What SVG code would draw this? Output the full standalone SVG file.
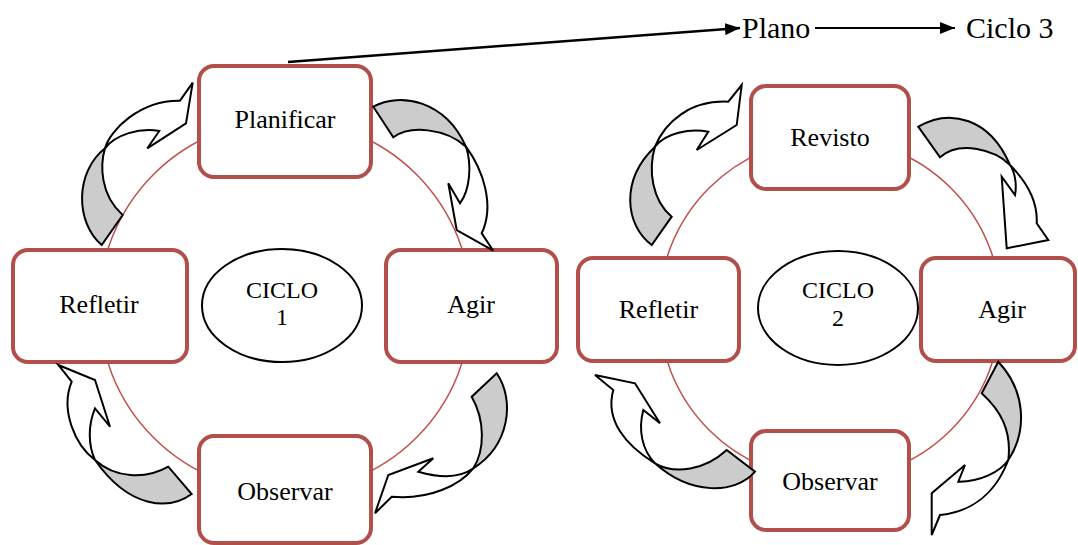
<svg xmlns="http://www.w3.org/2000/svg" width="1078" height="545" viewBox="0 0 1078 545">
<defs>
<style>
.box{fill:#fff;stroke:#b34f4b;stroke-width:4}
.ring{fill:none;stroke:#c0504d;stroke-width:1.5}
.ell{fill:#fff;stroke:#000;stroke-width:2}
.t{font-family:"Liberation Serif","Times New Roman",serif;font-size:26px;fill:#000;text-anchor:middle}
.c{font-family:"Liberation Serif","Times New Roman",serif;font-size:24px;fill:#000;text-anchor:middle}
.big{font-family:"Liberation Serif","Times New Roman",serif;font-size:30px;fill:#000}
.aw{fill:#fff;stroke:#000;stroke-width:2;stroke-linejoin:miter}
.ag{fill:#cccccc;stroke:#000;stroke-width:2}
.ln{stroke:#000;fill:none}
</style>
<marker id="ah" markerUnits="userSpaceOnUse" markerWidth="16" markerHeight="12" refX="15" refY="6" orient="auto">
<path d="M0,0 L15,6 L0,12 Z" fill="#000"/>
</marker>
</defs>
<rect width="1078" height="545" fill="#fff"/>
<circle class="ring" cx="285" cy="306" r="186"/>
<circle class="ring" cx="830" cy="309" r="171"/>
<g id="planificar"><rect class="box" x="199" y="66" width="172" height="111" rx="15"/><text class="t" x="285" y="128">Planificar</text></g>
<g id="refletir1"><rect class="box" x="13" y="250" width="174" height="112" rx="15"/><text class="t" x="99" y="313">Refletir</text></g>
<g id="agir1"><rect class="box" x="386" y="250" width="171" height="112" rx="15"/><text class="t" x="471" y="313">Agir</text></g>
<g id="observar1"><rect class="box" x="199" y="436" width="172" height="107" rx="15"/><text class="t" x="285" y="500">Observar</text></g>
<g id="ciclo1"><ellipse class="ell" cx="282" cy="305.5" rx="80" ry="56.5"/><text class="c" x="282" y="298">CICLO</text><text class="c" x="282" y="325">1</text></g>
<g id="revisto"><rect class="box" x="751" y="86" width="158" height="103" rx="15"/><text class="t" x="830" y="146">Revisto</text></g>
<g id="refletir2"><rect class="box" x="578" y="258" width="161" height="103" rx="15"/><text class="t" x="658.5" y="318">Refletir</text></g>
<g id="agir2"><rect class="box" x="921" y="258" width="154" height="103" rx="15"/><text class="t" x="1002" y="318">Agir</text></g>
<g id="observar2"><rect class="box" x="751" y="431" width="158" height="99" rx="15"/><text class="t" x="830" y="490">Observar</text></g>
<g id="ciclo2"><ellipse class="ell" cx="838" cy="308" rx="80" ry="57"/><text class="c" x="838" y="298">CICLO</text><text class="c" x="838" y="326">2</text></g>
<g id="plano"><text class="big" x="742" y="38">Plano</text></g>
<g id="ciclo3"><text class="big" x="966" y="38">Ciclo 3</text></g>
<g id="connectors">
<line class="ln" x1="288" y1="62" x2="740" y2="28" stroke-width="2.5" marker-end="url(#ah)"/>
<line class="ln" x1="815" y1="28" x2="955" y2="28" stroke-width="2" marker-end="url(#ah)"/>
<!-- left cycle curved arrows -->
<path class="ag" d="M101.7,245 C75,222 75,172 105,148.3 C100,165 100,195 122.7,215 Z"/>
<path class="aw" d="M105,148.3 C110,130 140,100 180,100.7 L192.7,82.7 L186,123.3 L147.3,148.3 L159.3,131 C140,127 115,135 105,148.3 Z"/>
<path class="ag" d="M373.3,106.7 C400,92 445,100 466,146.7 C445,128 410,125 393.3,137.3 Z"/>
<path class="aw" d="M466,146.7 C483,170 495,205 481.7,233.3 L493.3,250.7 L456.7,230 L448.3,183.3 L460,203.3 C470,190 472,165 466,146.7 Z"/>
<path class="ag" d="M191.7,494 C170,510 130,510 95,460 C115,478 145,480 168.3,466.7 Z"/>
<path class="aw" d="M95,460 C75,445 60,410 71.7,381.7 L58.3,365 L95,380 L110,426.7 L95,408.3 C88,425 88,445 95,460 Z"/>
<path class="ag" d="M496.7,373.3 C515,400 510,445 473.3,468.3 C485,450 485,420 471.7,396.7 Z"/>
<path class="aw" d="M473.3,468.3 C460,485 430,500 391.7,496.7 L375,513.3 L388.3,475 L433.3,458.3 L418.3,471.7 C440,478 460,478 473.3,468.3 Z"/>
<!-- right cycle curved arrows -->
<path class="ag" d="M651.7,245 C625,225 620,180 655,146.7 C648,170 652,200 671.7,216.7 Z"/>
<path class="aw" d="M655,146.7 C665,122 690,100 728.3,101.7 L741.7,85 L736.7,125 L696.7,150 L708.3,131.7 C690,128 665,133 655,146.7 Z"/>
<path class="ag" d="M918.3,126.7 C950,108 990,118 1010,165 C995,150 960,140 940,157.3 Z"/>
<path class="aw" d="M1010,165 C1025,180 1038,200 1036.7,223.3 L1048.3,240 L1006.7,248.3 L1001.7,176.7 L1015,195 C1017,185 1015,172 1010,165 Z"/>
<path class="ag" d="M755,471.7 C735,495 690,495 655,463.3 C675,475 705,470 726.7,450 Z"/>
<path class="aw" d="M655,463.3 C625,445 605,420 613.3,390 L595,375 L635,383.3 L660,423.3 L643.3,410 C638,430 642,450 655,463.3 Z"/>
<path class="ag" d="M998.3,361.7 C1025,390 1028,430 1008.3,460 C1012,430 1000,410 981.7,393.3 Z"/>
<path class="aw" d="M1008.3,460 C995,495 970,512 940,515 L931.7,535 L931.7,493.3 L965,465 L958.3,481.7 C980,482 1000,472 1008.3,460 Z"/>
</g>
</svg>
